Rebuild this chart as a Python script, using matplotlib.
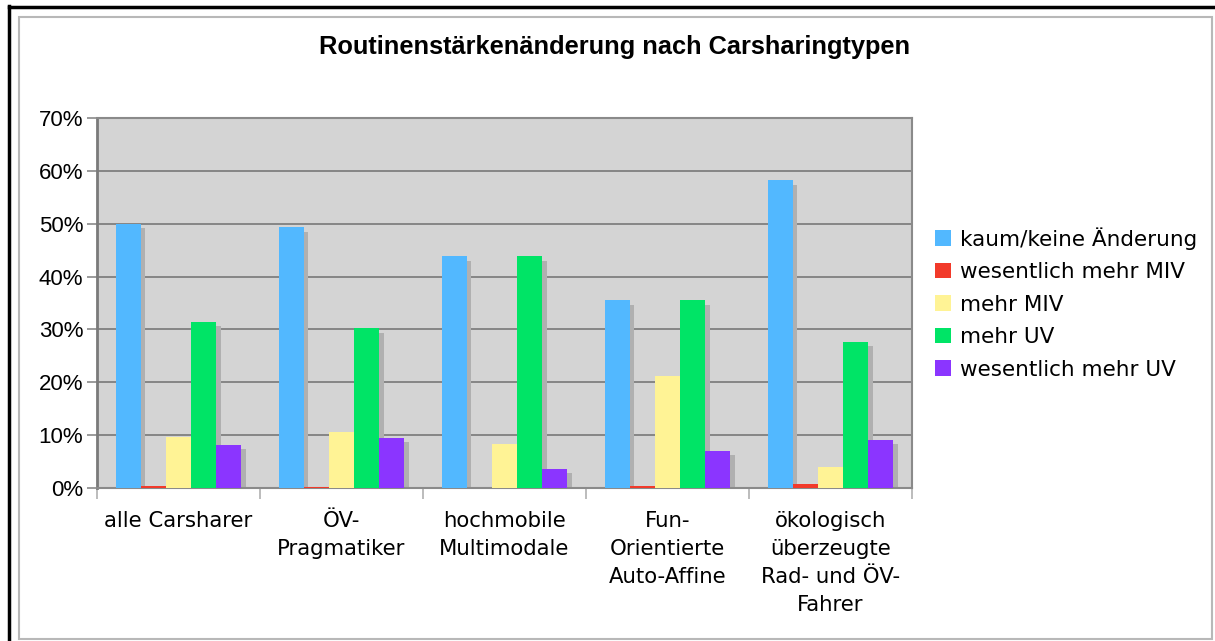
import matplotlib
matplotlib.use('Agg')
import matplotlib.pyplot as plt
from matplotlib.patches import Rectangle
from matplotlib.ticker import FuncFormatter, MultipleLocator
import numpy as np

# Daten (Prozent)
categories = ['alle Carsharer', 'ÖV-\nPragmatiker', 'hochmobile\nMultimodale',
              'Fun-\nOrientierte\nAuto-Affine', 'ökologisch\nüberzeugte\nRad- und ÖV-\nFahrer']
series_names = ['kaum/keine Änderung', 'wesentlich mehr MIV', 'mehr MIV',
                'mehr UV', 'wesentlich mehr UV']
kaum_keine = [50.0, 49.3, 43.8, 35.5, 58.2]
wes_mehr_miv = [0.4, 0.2, 0.0, 0.4, 0.8]
mehr_miv = [9.7, 10.6, 8.4, 21.2, 4.0]
mehr_uv = [31.4, 30.2, 43.8, 35.5, 27.6]
wes_mehr_uv = [8.2, 9.5, 3.6, 7.0, 9.1]
series = [kaum_keine, wes_mehr_miv, mehr_miv, mehr_uv, wes_mehr_uv]
colors = ['#52b8ff', '#f23a2a', '#fff395', '#00e466', '#8b35ff']

W, H = 1215, 641
fig = plt.figure(figsize=(W / 100, H / 100), dpi=100)
fig.patch.set_facecolor('white')

# Rahmen
fig.add_artist(Rectangle((19 / W, 1 - 639 / H), (1212 - 19) / W, (639 - 17) / H,
                         transform=fig.transFigure, fill=False,
                         edgecolor='#b8b8b8', lw=1.5))
fig.add_artist(plt.Line2D([8.5 / W, 8.5 / W], [0, 1 - 6 / H], transform=fig.transFigure,
                          color='black', lw=2.5))
fig.add_artist(plt.Line2D([8.5 / W, 1], [1 - 6.5 / H, 1 - 6.5 / H], transform=fig.transFigure,
                          color='black', lw=2.5))

ax = fig.add_axes([97 / W, 1 - 488 / H, (912 - 97) / W, (488 - 118) / H])
ax.set_facecolor('#d4d4d4')

n = len(categories)
x = np.arange(n)
bw = 0.1535
dx_sh = 4.5 / 163
dy_sh = 0.8
for i, (vals, col) in enumerate(zip(series, colors)):
    pos = x + (i - 2) * bw
    sh = [max(v - dy_sh, 0) for v in vals]
    ax.bar(pos + dx_sh, sh, width=bw, color='#b0b0b0', zorder=2, linewidth=0)
for i, (vals, col) in enumerate(zip(series, colors)):
    pos = x + (i - 2) * bw
    ax.bar(pos, vals, width=bw, color=col, zorder=3, linewidth=0,
           label=series_names[i])

ax.set_xlim(-0.5, n - 0.5)
ax.set_ylim(0, 70)
ax.yaxis.set_major_locator(MultipleLocator(10))
ax.yaxis.set_major_formatter(FuncFormatter(lambda v, p: f'{v:.0f}%'))
ax.grid(axis='y', color='#7f7f7f', lw=1.3, zorder=1)
ax.set_axisbelow(True)
for s in ax.spines.values():
    s.set_color('#8a8a8a')
    s.set_linewidth(1.5)
ax.spines['left'].set_color('#7a7a7a')
ax.spines['left'].set_linewidth(2)

ax.set_xticks(np.arange(n + 1) - 0.5, minor=False)
ax.set_xticklabels([])
ax.tick_params(axis='x', length=8, color='#b0b0b0', width=1.2)
ax.tick_params(axis='y', length=7, color='#8a8a8a', width=1.2, pad=3,
               labelsize=16)
for lab in ax.get_yticklabels():
    lab.set_fontfamily('Liberation Sans')

for i, c in enumerate(categories):
    ax.text(i, -4.3, c, ha='center', va='top', fontsize=15.3,
            family='DejaVu Sans', linespacing=1.5, transform=ax.transData)

fig.text(615 / W, 1 - 47 / H, 'Routinenstärkenänderung nach Carsharingtypen',
         ha='center', va='center', fontsize=18.3, fontweight='bold',
         family='Liberation Sans')

leg = fig.legend(loc='upper left', bbox_to_anchor=(935 / W, 1 - 227 / H),
                 frameon=False, prop={'family': 'DejaVu Sans', 'size': 15.5},
                 handlelength=0.75, handleheight=0.75, handletextpad=0.4,
                 labelspacing=0.58, borderaxespad=0, borderpad=0)

fig.savefig('out.png', dpi=100)
